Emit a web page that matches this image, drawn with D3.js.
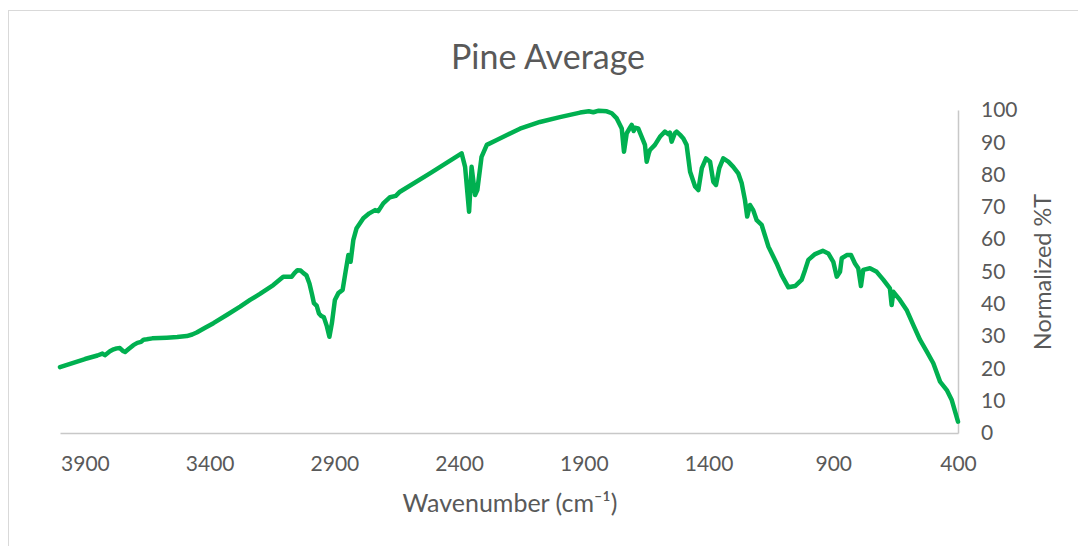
<!DOCTYPE html>
<html>
<head>
<meta charset="utf-8">
<script src="https://cdn.jsdelivr.net/npm/d3@7"></script>
<style>
  html, body { margin: 0; padding: 0; background: #fff; }
  svg { display: block; }
  text { font-family: Lato, "Open Sans", "Liberation Sans", sans-serif; fill: #595959; }
</style>
</head>
<body>
<svg id="chart" width="1078" height="546"></svg>
<script>
// ---- data ----
const chartTitle = "Pine Average";
const xTitle = "Wavenumber (cm\u207B\u00B9)";
const yTitle = "Normalized %T";
const xTicks = [3900, 3400, 2900, 2400, 1900, 1400, 900, 400];
const yTicks = [0, 10, 20, 30, 40, 50, 60, 70, 80, 90, 100];
const wavenumbers = [
  4000, 3900, 3850, 3830, 3820, 3800, 3785, 3773, 3760, 3748, 3739, 3725, 3706, 3690, 3675, 3665,
  3652, 3630, 3600, 3572, 3530, 3492, 3470, 3452, 3420, 3385, 3330, 3278, 3238, 3200, 3145, 3105,
  3071, 3060, 3048, 3035, 3024, 3012, 3000, 2990, 2982, 2971, 2962, 2952, 2942, 2930, 2920, 2910,
  2898, 2884, 2867, 2855, 2844, 2835, 2824, 2811, 2784, 2760, 2737, 2724, 2704, 2677, 2654, 2637,
  2517, 2390, 2376, 2360, 2350, 2336, 2327, 2310, 2289, 2249, 2156, 2076, 1996, 1915, 1880, 1862,
  1840, 1808, 1788, 1768, 1748, 1739, 1728, 1715, 1708, 1700, 1695, 1682, 1668, 1655, 1648, 1640,
  1635, 1615, 1595, 1575, 1561, 1555, 1548, 1535, 1528, 1514, 1501, 1488, 1474, 1454, 1441, 1427,
  1410, 1394, 1381, 1370, 1357, 1341, 1321, 1301, 1281, 1267, 1254, 1245, 1234, 1221, 1207, 1187,
  1160, 1127, 1107, 1080, 1053, 1027, 1013, 1000, 973, 942, 920, 900, 886, 873, 866, 846,
  829, 813, 800, 789, 780, 753, 726, 699, 673, 666, 659, 633, 606, 579, 552, 525,
  499, 472, 445, 425, 400
];
const transmittance = [
  20.4, 22.9, 24.0, 24.6, 24.1, 25.3, 25.9, 26.2, 26.3, 25.4, 25.1, 26.0, 27.2, 27.9, 28.2, 28.9,
  29.0, 29.3, 29.4, 29.5, 29.7, 30.0, 30.5, 31.1, 32.5, 34.0, 36.6, 39.1, 41.2, 43.0, 45.8, 48.4,
  48.4, 49.5, 50.4, 50.3, 49.5, 48.8, 46.3, 43.0, 40.2, 39.4, 37.0, 36.2, 35.8, 33.0, 29.8, 34.0,
  41.2, 43.3, 44.3, 50.0, 55.1, 53.0, 59.8, 63.4, 66.5, 68.0, 69.0, 68.7, 71.1, 73.0, 73.4, 74.7,
  80.4, 86.6, 82.4, 68.5, 82.4, 73.7, 75.2, 85.5, 89.2, 90.7, 94.2, 96.3, 97.8, 99.2, 99.6, 99.3,
  99.8, 99.6, 99.0, 97.4, 94.3, 87.1, 92.8, 94.5, 95.4, 93.5, 94.5, 94.3, 91.7, 89.2, 84.0, 86.5,
  87.6, 89.2, 91.7, 93.3, 92.5, 93.0, 90.2, 92.8, 93.3, 92.3, 91.2, 89.2, 80.9, 76.3, 75.2, 82.0,
  85.0, 84.0, 77.8, 76.8, 82.0, 85.0, 84.0, 82.4, 80.4, 77.3, 72.1, 67.0, 70.6, 69.0, 65.9, 64.4,
  57.7, 52.5, 48.9, 45.1, 45.5, 47.4, 50.5, 53.6, 55.4, 56.4, 55.6, 53.0, 48.4, 49.9, 54.1, 55.1,
  55.1, 52.5, 51.0, 45.5, 50.5, 51.0, 49.9, 47.4, 44.8, 39.6, 43.7, 41.2, 38.1, 33.4, 28.8, 25.2,
  21.6, 15.9, 13.3, 10.2, 3.5
];

// ---- layout ----
const svg = d3.select("#chart");
const plot = { left: 60, right: 958, top: 110, bottom: 433 };

// chart area border
svg.append("rect")
  .attr("x", 8.5).attr("y", 10.5).attr("width", 1090).attr("height", 560)
  .attr("fill", "#fff").attr("stroke", "#d9d9d9").attr("stroke-width", 1);

const x = d3.scaleLinear().domain([4000, 400]).range([plot.left, plot.right]);
const y = d3.scaleLinear().domain([0, 100]).range([plot.bottom, plot.top]);

// x axis
const gx = svg.append("g").attr("transform", `translate(0,${plot.bottom})`)
  .call(d3.axisBottom(x).tickValues(xTicks).tickSize(0).tickPadding(23).tickFormat(d3.format("d")));
gx.select(".domain").attr("stroke", "#c8c8c8").attr("stroke-width", 1.5);
gx.selectAll("text").style("font-size", "21px").attr("fill", "#595959");

// y axis (right)
const gy = svg.append("g").attr("transform", `translate(${plot.right},0)`)
  .call(d3.axisRight(y).tickValues(yTicks).tickSize(0).tickPadding(23));
gy.select(".domain").attr("stroke", "#c8c8c8").attr("stroke-width", 1.5);
gy.selectAll("text").style("font-size", "21px").attr("fill", "#595959");

// line
const pts = wavenumbers.map((w, i) => [w, transmittance[i]]);
svg.append("path")
  .datum(pts)
  .attr("fill", "none")
  .attr("stroke", "#00b050")
  .attr("stroke-width", 4.5)
  .attr("stroke-linejoin", "round")
  .attr("stroke-linecap", "round")
  .attr("d", d3.line().x(d => x(d[0])).y(d => y(d[1])));

// titles
svg.append("text").attr("x", 548).attr("y", 69).attr("text-anchor", "middle")
  .style("font-size", "34px").text(chartTitle);
svg.append("text").attr("x", 510).attr("y", 512).attr("text-anchor", "middle")
  .style("font-size", "25px").text(xTitle);
svg.append("text").attr("transform", "translate(1051,272) rotate(-90)").attr("text-anchor", "middle")
  .style("font-size", "23.5px").text(yTitle);
</script>
</body>
</html>
